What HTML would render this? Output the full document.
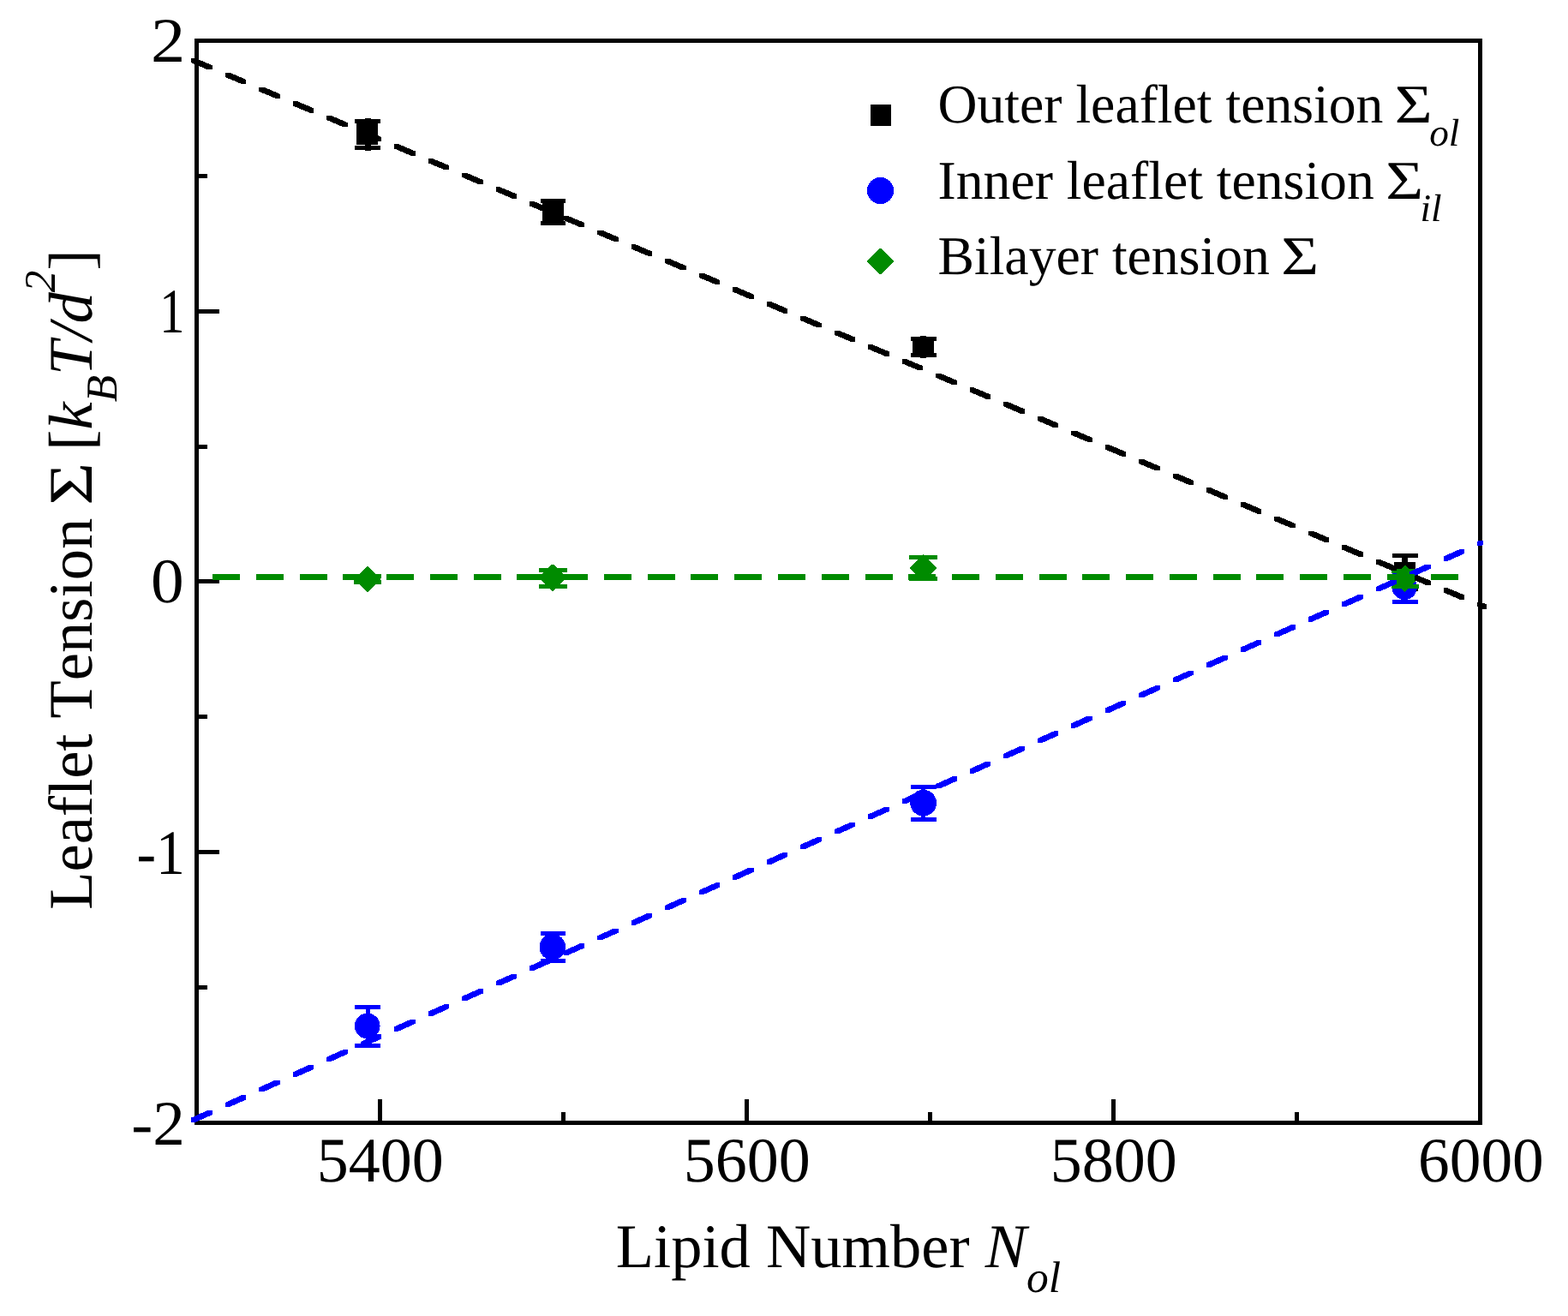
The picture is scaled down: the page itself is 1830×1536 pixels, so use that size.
<!DOCTYPE html>
<html lang="en"><head><meta charset="utf-8">
<title>Leaflet Tension vs Lipid Number</title>
<style>
html,body{margin:0;padding:0;background:#fff;}
body{width:1830px;height:1536px;overflow:hidden;}
svg{display:block;}
text{font-family:"Liberation Serif", "DejaVu Serif", serif;fill:#000;font-kerning:none;font-variant-ligatures:none;text-rendering:geometricPrecision;white-space:pre;}
.it{font-style:italic;}
</style></head><body>
<svg width="1830" height="1536" viewBox="0 0 1830 1536">
<rect x="0" y="0" width="1830" height="1536" fill="#fff"/>
<g id="axes" fill="#000" shape-rendering="crispEdges">
<rect x="227.0" y="45.0" width="1503.0" height="5"/>
<rect x="227.0" y="1308.0" width="1503.0" height="5"/>
<rect x="227.0" y="45.0" width="5" height="1268.0"/>
<rect x="1725.0" y="45.0" width="5" height="1268.0"/>
<rect x="441.0" y="1283.0" width="5" height="27.5"/>
<rect x="869.0" y="1283.0" width="5" height="27.5"/>
<rect x="1297.0" y="1283.0" width="5" height="27.5"/>
<rect x="1725.0" y="1283.0" width="5" height="27.5"/>
<rect x="227.0" y="1298.0" width="5" height="12.5"/>
<rect x="655.0" y="1298.0" width="5" height="12.5"/>
<rect x="1083.0" y="1298.0" width="5" height="12.5"/>
<rect x="1511.0" y="1298.0" width="5" height="12.5"/>
<rect x="229.5" y="45.0" width="26.5" height="5"/>
<rect x="229.5" y="361.0" width="26.5" height="5"/>
<rect x="229.5" y="676.0" width="26.5" height="5"/>
<rect x="229.5" y="992.0" width="26.5" height="5"/>
<rect x="229.5" y="1308.0" width="26.5" height="5"/>
<rect x="229.5" y="203.0" width="12.5" height="5"/>
<rect x="229.5" y="519.0" width="12.5" height="5"/>
<rect x="229.5" y="834.0" width="12.5" height="5"/>
<rect x="229.5" y="1150.0" width="12.5" height="5"/>
</g>
<g id="series-outer" shape-rendering="crispEdges">
<rect x="426" y="138" width="7" height="38" fill="#000"/>
<rect x="414" y="139" width="30" height="5" fill="#000"/>
<rect x="414" y="170" width="30" height="5" fill="#000"/>
<rect x="416" y="144" width="25" height="25" fill="#000"/>
<rect x="642" y="232" width="7" height="31" fill="#000"/>
<rect x="631" y="232" width="29" height="5" fill="#000"/>
<rect x="631" y="258" width="29" height="5" fill="#000"/>
<rect x="633" y="235" width="25" height="25" fill="#000"/>
<rect x="1074" y="392" width="7" height="26" fill="#000"/>
<rect x="1063" y="393" width="30" height="5" fill="#000"/>
<rect x="1063" y="412" width="30" height="5" fill="#000"/>
<rect x="1065" y="393" width="25" height="24" fill="#000"/>
<rect x="1636" y="646" width="7" height="44" fill="#000"/>
<rect x="1625" y="646" width="30" height="5" fill="#000"/>
<rect x="1625" y="685" width="30" height="5" fill="#000"/>
<rect x="1627" y="656" width="25" height="25" fill="#000"/>
</g>
<g id="series-inner" shape-rendering="crispEdges">
<rect x="427" y="1173" width="5" height="50" fill="#0000ff"/>
<rect x="414" y="1173" width="30" height="5" fill="#0000ff"/>
<rect x="414" y="1218" width="30" height="5" fill="#0000ff"/>
<circle cx="428.7" cy="1197.5" r="14.9" fill="#0000ff"/>
<rect x="643" y="1087" width="5" height="37" fill="#0000ff"/>
<rect x="631" y="1087" width="29" height="5" fill="#0000ff"/>
<rect x="631" y="1119" width="29" height="5" fill="#0000ff"/>
<circle cx="644.8" cy="1105.3" r="15.3" fill="#0000ff"/>
<rect x="1075" y="916" width="5" height="43" fill="#0000ff"/>
<rect x="1063" y="916" width="30" height="5" fill="#0000ff"/>
<rect x="1063" y="954" width="30" height="5" fill="#0000ff"/>
<circle cx="1077.6" cy="937.1" r="15.4" fill="#0000ff"/>
<rect x="1637" y="667" width="5" height="38" fill="#0000ff"/>
<rect x="1625" y="667" width="30" height="5" fill="#0000ff"/>
<rect x="1625" y="700" width="30" height="5" fill="#0000ff"/>
<circle cx="1639.2" cy="685.5" r="14.6" fill="#0000ff"/>
</g>
<g id="series-bilayer" shape-rendering="crispEdges">
<rect x="427" y="670" width="5" height="12" fill="#008b00"/>
<rect x="413" y="670" width="32" height="5" fill="#008b00"/>
<rect x="413" y="677" width="32" height="5" fill="#008b00"/>
<path d="M414.8 675.9L429 661.7L443.2 675.9L429 690.1Z" fill="#008b00" stroke="#008b00" stroke-width="2" stroke-linejoin="round"/>
<rect x="643" y="663" width="5" height="24" fill="#008b00"/>
<rect x="629" y="663" width="33" height="5" fill="#008b00"/>
<rect x="629" y="682" width="33" height="5" fill="#008b00"/>
<path d="M630.2 674.2L645 659.4L659.8 674.2L645 689Z" fill="#008b00" stroke="#008b00" stroke-width="2" stroke-linejoin="round"/>
<rect x="1075" y="648" width="5" height="30" fill="#008b00"/>
<rect x="1061" y="648" width="33" height="5" fill="#008b00"/>
<rect x="1061" y="673" width="33" height="5" fill="#008b00"/>
<path d="M1062.9 662.6L1077.5 648L1092.1 662.6L1077.5 677.2Z" fill="#008b00" stroke="#008b00" stroke-width="2" stroke-linejoin="round"/>
<rect x="1637" y="664" width="5" height="23" fill="#008b00"/>
<rect x="1624" y="664" width="32" height="5" fill="#008b00"/>
<rect x="1624" y="682" width="32" height="5" fill="#008b00"/>
<path d="M1625.1 675.4L1639.6 660.9L1654.1 675.4L1639.6 689.9Z" fill="#008b00" stroke="#008b00" stroke-width="2" stroke-linejoin="round"/>
</g>
<g id="fits" shape-rendering="crispEdges">
<path fill="#000" d="M223.2 68.0L228.4 68.0L247.7 76.2L247.7 81.4L242.5 81.4L223.2 73.2ZM262.7 84.7L267.9 84.7L287.2 92.9L287.2 98.1L282.0 98.1L262.7 89.9ZM302.2 101.5L307.4 101.5L326.7 109.6L326.7 114.8L321.5 114.8L302.2 106.7ZM341.7 118.2L346.9 118.2L366.2 126.3L366.2 131.5L361.0 131.5L341.7 123.4ZM381.2 134.9L386.4 134.9L405.7 143.0L405.7 148.2L400.5 148.2L381.2 140.1ZM420.7 151.6L425.9 151.6L445.2 159.8L445.2 165.0L440.0 165.0L420.7 156.8ZM460.2 168.3L465.4 168.3L484.7 176.5L484.7 181.7L479.5 181.7L460.2 173.5ZM499.7 185.0L504.9 185.0L524.2 193.2L524.2 198.4L519.0 198.4L499.7 190.2ZM539.2 201.7L544.4 201.7L563.7 209.9L563.7 215.1L558.5 215.1L539.2 206.9ZM578.7 218.4L583.9 218.4L603.2 226.6L603.2 231.8L598.0 231.8L578.7 223.6ZM618.2 235.2L623.4 235.2L642.7 243.3L642.7 248.5L637.5 248.5L618.2 240.4ZM657.7 251.9L662.9 251.9L682.2 260.0L682.2 265.2L677.0 265.2L657.7 257.1ZM697.2 268.6L702.4 268.6L721.7 276.7L721.7 281.9L716.5 281.9L697.2 273.8ZM736.7 285.3L741.9 285.3L761.2 293.5L761.2 298.7L756.0 298.7L736.7 290.5ZM776.2 302.0L781.4 302.0L800.7 310.2L800.7 315.4L795.5 315.4L776.2 307.2ZM815.7 318.7L820.9 318.7L840.2 326.9L840.2 332.1L835.0 332.1L815.7 323.9ZM855.2 335.4L860.4 335.4L879.7 343.6L879.7 348.8L874.5 348.8L855.2 340.6ZM894.7 352.1L899.9 352.1L919.2 360.3L919.2 365.5L914.0 365.5L894.7 357.3ZM934.2 368.9L939.4 368.9L958.7 377.0L958.7 382.2L953.5 382.2L934.2 374.1ZM973.7 385.6L978.9 385.6L998.2 393.7L998.2 398.9L993.0 398.9L973.7 390.8ZM1013.2 402.3L1018.4 402.3L1037.7 410.4L1037.7 415.6L1032.5 415.6L1013.2 407.5ZM1052.7 419.0L1057.9 419.0L1077.2 427.2L1077.2 432.4L1072.0 432.4L1052.7 424.2ZM1092.2 435.7L1097.4 435.7L1116.7 443.9L1116.7 449.1L1111.5 449.1L1092.2 440.9ZM1131.7 452.4L1136.9 452.4L1156.2 460.6L1156.2 465.8L1151.0 465.8L1131.7 457.6ZM1171.2 469.1L1176.4 469.1L1195.7 477.3L1195.7 482.5L1190.5 482.5L1171.2 474.3ZM1210.7 485.8L1215.9 485.8L1235.2 494.0L1235.2 499.2L1230.0 499.2L1210.7 491.0ZM1250.2 502.6L1255.4 502.6L1274.7 510.7L1274.7 515.9L1269.5 515.9L1250.2 507.8ZM1289.7 519.3L1294.9 519.3L1314.2 527.4L1314.2 532.6L1309.0 532.6L1289.7 524.5ZM1329.2 536.0L1334.4 536.0L1353.7 544.1L1353.7 549.3L1348.5 549.3L1329.2 541.2ZM1368.7 552.7L1373.9 552.7L1393.2 560.9L1393.2 566.1L1388.0 566.1L1368.7 557.9ZM1408.2 569.4L1413.4 569.4L1432.7 577.6L1432.7 582.8L1427.5 582.8L1408.2 574.6ZM1447.7 586.1L1452.9 586.1L1472.2 594.3L1472.2 599.5L1467.0 599.5L1447.7 591.3ZM1487.2 602.8L1492.4 602.8L1511.7 611.0L1511.7 616.2L1506.5 616.2L1487.2 608.0ZM1526.7 619.5L1531.9 619.5L1551.2 627.7L1551.2 632.9L1546.0 632.9L1526.7 624.7ZM1566.2 636.3L1571.4 636.3L1590.7 644.4L1590.7 649.6L1585.5 649.6L1566.2 641.5ZM1605.7 653.0L1610.9 653.0L1630.2 661.1L1630.2 666.3L1625.0 666.3L1605.7 658.2ZM1645.2 669.7L1650.4 669.7L1669.7 677.8L1669.7 683.0L1664.5 683.0L1645.2 674.9ZM1684.7 686.4L1689.9 686.4L1709.2 694.6L1709.2 699.8L1704.0 699.8L1684.7 691.6ZM1724.2 703.1L1729.4 703.1L1734.7 705.3L1734.7 710.5L1729.5 710.5L1724.2 708.3Z"/>
<path fill="#0000ff" d="M223.2 1309.8L228.4 1309.8L247.7 1301.1L247.7 1295.9L242.5 1295.9L223.2 1304.6ZM262.7 1292.1L267.9 1292.1L287.2 1283.4L287.2 1278.2L282.0 1278.2L262.7 1286.9ZM302.2 1274.4L307.4 1274.4L326.7 1265.7L326.7 1260.5L321.5 1260.5L302.2 1269.2ZM341.7 1256.6L346.9 1256.6L366.2 1248.0L366.2 1242.8L361.0 1242.8L341.7 1251.4ZM381.2 1238.9L386.4 1238.9L405.7 1230.3L405.7 1225.1L400.5 1225.1L381.2 1233.7ZM420.7 1221.2L425.9 1221.2L445.2 1212.6L445.2 1207.4L440.0 1207.4L420.7 1216.0ZM460.2 1203.5L465.4 1203.5L484.7 1194.9L484.7 1189.7L479.5 1189.7L460.2 1198.3ZM499.7 1185.8L504.9 1185.8L524.2 1177.2L524.2 1172.0L519.0 1172.0L499.7 1180.6ZM539.2 1168.1L544.4 1168.1L563.7 1159.5L563.7 1154.3L558.5 1154.3L539.2 1162.9ZM578.7 1150.4L583.9 1150.4L603.2 1141.8L603.2 1136.6L598.0 1136.6L578.7 1145.2ZM618.2 1132.7L623.4 1132.7L642.7 1124.1L642.7 1118.9L637.5 1118.9L618.2 1127.5ZM657.7 1115.0L662.9 1115.0L682.2 1106.4L682.2 1101.2L677.0 1101.2L657.7 1109.8ZM697.2 1097.3L702.4 1097.3L721.7 1088.7L721.7 1083.5L716.5 1083.5L697.2 1092.1ZM736.7 1079.6L741.9 1079.6L761.2 1071.0L761.2 1065.8L756.0 1065.8L736.7 1074.4ZM776.2 1061.9L781.4 1061.9L800.7 1053.3L800.7 1048.1L795.5 1048.1L776.2 1056.7ZM815.7 1044.2L820.9 1044.2L840.2 1035.6L840.2 1030.4L835.0 1030.4L815.7 1039.0ZM855.2 1026.5L860.4 1026.5L879.7 1017.8L879.7 1012.6L874.5 1012.6L855.2 1021.3ZM894.7 1008.8L899.9 1008.8L919.2 1000.1L919.2 994.9L914.0 994.9L894.7 1003.6ZM934.2 991.1L939.4 991.1L958.7 982.4L958.7 977.2L953.5 977.2L934.2 985.9ZM973.7 973.4L978.9 973.4L998.2 964.7L998.2 959.5L993.0 959.5L973.7 968.2ZM1013.2 955.7L1018.4 955.7L1037.7 947.0L1037.7 941.8L1032.5 941.8L1013.2 950.5ZM1052.7 938.0L1057.9 938.0L1077.2 929.3L1077.2 924.1L1072.0 924.1L1052.7 932.8ZM1092.2 920.3L1097.4 920.3L1116.7 911.6L1116.7 906.4L1111.5 906.4L1092.2 915.1ZM1131.7 902.6L1136.9 902.6L1156.2 893.9L1156.2 888.7L1151.0 888.7L1131.7 897.4ZM1171.2 884.9L1176.4 884.9L1195.7 876.2L1195.7 871.0L1190.5 871.0L1171.2 879.7ZM1210.7 867.2L1215.9 867.2L1235.2 858.5L1235.2 853.3L1230.0 853.3L1210.7 862.0ZM1250.2 849.5L1255.4 849.5L1274.7 840.8L1274.7 835.6L1269.5 835.6L1250.2 844.3ZM1289.7 831.8L1294.9 831.8L1314.2 823.1L1314.2 817.9L1309.0 817.9L1289.7 826.6ZM1329.2 814.1L1334.4 814.1L1353.7 805.4L1353.7 800.2L1348.5 800.2L1329.2 808.9ZM1368.7 796.3L1373.9 796.3L1393.2 787.7L1393.2 782.5L1388.0 782.5L1368.7 791.1ZM1408.2 778.6L1413.4 778.6L1432.7 770.0L1432.7 764.8L1427.5 764.8L1408.2 773.4ZM1447.7 760.9L1452.9 760.9L1472.2 752.3L1472.2 747.1L1467.0 747.1L1447.7 755.7ZM1487.2 743.2L1492.4 743.2L1511.7 734.6L1511.7 729.4L1506.5 729.4L1487.2 738.0ZM1526.7 725.5L1531.9 725.5L1551.2 716.9L1551.2 711.7L1546.0 711.7L1526.7 720.3ZM1566.2 707.8L1571.4 707.8L1590.7 699.2L1590.7 694.0L1585.5 694.0L1566.2 702.6ZM1605.7 690.1L1610.9 690.1L1630.2 681.5L1630.2 676.3L1625.0 676.3L1605.7 684.9ZM1645.2 672.4L1650.4 672.4L1669.7 663.8L1669.7 658.6L1664.5 658.6L1645.2 667.2ZM1684.7 654.7L1689.9 654.7L1709.2 646.1L1709.2 640.9L1704.0 640.9L1684.7 649.5ZM1724.2 637.0L1729.4 637.0L1730.7 636.4L1730.7 631.2L1725.5 631.2L1724.2 631.8Z"/>
<path fill="#008b00" d="M248 670h32v7h-32zM299 670h32v7h-32zM350 670h32v7h-32zM400 670h32v7h-32zM451 670h32v7h-32zM502 670h32v7h-32zM553 670h32v7h-32zM603 670h32v7h-32zM654 670h32v7h-32zM705 670h32v7h-32zM756 670h32v7h-32zM806 670h32v7h-32zM857 670h32v7h-32zM908 670h32v7h-32zM959 670h32v7h-32zM1010 670h32v7h-32zM1060 670h32v7h-32zM1111 670h32v7h-32zM1162 670h32v7h-32zM1213 670h32v7h-32zM1263 670h32v7h-32zM1314 670h32v7h-32zM1365 670h32v7h-32zM1416 670h32v7h-32zM1466 670h32v7h-32zM1517 670h32v7h-32zM1568 670h32v7h-32zM1619 670h32v7h-32zM1670 670h32v7h-32z"/>
</g>
<g id="ticklabels" font-size="72.5">
<text transform="translate(369.83 1379.00) scale(1.0211 1.020)">5400</text>
<text transform="translate(797.83 1379.00) scale(1.0211 1.020)">5600</text>
<text transform="translate(1225.83 1379.00) scale(1.0211 1.020)">5800</text>
<text transform="translate(1655.05 1379.00) scale(1.0120 1.020)">6000</text>
<text transform="translate(176.00 71.90) scale(1.1101 1.020)">2</text>
<text transform="translate(186.16 387.90) scale(0.8039 1.020)">1</text>
<text transform="translate(176.09 703.30) scale(1.0665 1.020)">0</text>
<text transform="translate(159.40 1019.80) scale(0.9350 1.020)">-1</text>
<text transform="translate(153.25 1336.10) scale(1.0382 1.020)">-2</text>
</g>
<g id="xlabel">
<text font-size="72.50" transform="translate(718.8 1478.8)"><tspan x="0.00" y="0.00">Lipid Number </tspan><tspan x="430.89" y="0.00" class="it">N</tspan><tspan x="479.25" y="29.00" font-size="51.47" class="it">ol</tspan></text>
</g>
<g id="ylabel">
<text font-size="72.50" transform="translate(107 1061.8) rotate(-90)"><tspan x="0.00" y="0.00">Leaflet Tension </tspan><tspan x="472.12" y="0" textLength="49.99" lengthAdjust="spacingAndGlyphs">Σ</tspan><tspan x="517.99" y="0.00"> [</tspan><tspan x="560.26" y="0.00" class="it">k</tspan><tspan x="592.44" y="29.00" font-size="51.47" class="it">B</tspan><tspan x="623.88" y="0.00" class="it">T/d</tspan><tspan x="720.60" y="-43.50" font-size="51.47" class="it">2</tspan><tspan x="746.33" y="0.00">]</tspan></text>
</g>
<g id="legend" shape-rendering="crispEdges">
<rect x="1016" y="122" width="24" height="25" fill="#000"/>
<circle cx="1027.5" cy="222.5" r="15.6" fill="#0000ff"/>
<path d="M1013.1 305L1027.5 290.6L1041.9 305L1027.5 319.4Z" fill="#008b00" stroke="#008b00" stroke-width="2" stroke-linejoin="round"/>
<text font-size="63.70" transform="translate(1094.5 143.4)"><tspan x="0.00" y="0.00">Outer leaflet tension </tspan><tspan x="533.35" y="0" textLength="43.92" lengthAdjust="spacingAndGlyphs">Σ</tspan><tspan x="573.66" y="26.12" font-size="45.23" class="it">ol</tspan></text>
<text font-size="63.70" transform="translate(1094.5 231.6)"><tspan x="0.00" y="0.00">Inner leaflet tension </tspan><tspan x="522.71" y="0" textLength="43.92" lengthAdjust="spacingAndGlyphs">Σ</tspan><tspan x="563.02" y="26.12" font-size="45.23" class="it">il</tspan></text>
<text font-size="63.70" transform="translate(1094.5 319.8)"><tspan x="0.00" y="0.00">Bilayer tension </tspan><tspan x="400.76" y="0" textLength="43.92" lengthAdjust="spacingAndGlyphs">Σ</tspan></text>
</g>
</svg>
</body></html>
